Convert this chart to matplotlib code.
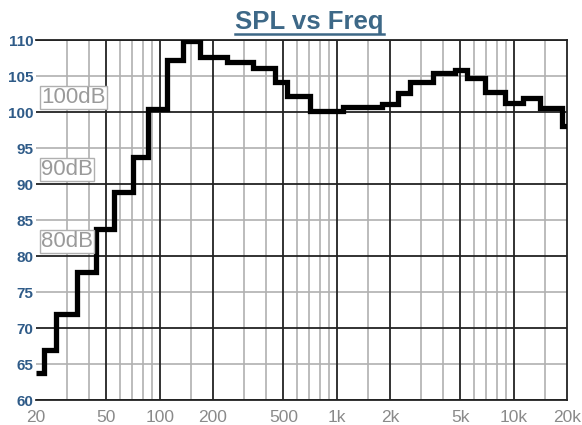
import numpy as np
import matplotlib
matplotlib.use('Agg')
import matplotlib.pyplot as plt
from matplotlib.lines import Line2D

# step edges (Hz) and levels (dB)
edges = [20, 22.2, 26, 34.2, 43.5, 55.2, 70.9, 86.2, 109.5, 135, 169, 239, 338,
         448, 526, 706, 1090, 1796, 2228, 2594, 3514, 4659, 5466, 6882, 8926,
         11330, 14080, 18670, 20000]
spl = [63.8, 66.9, 71.9, 77.8, 83.8, 88.9, 93.8, 100.4, 107.2, 109.8, 107.7,
       107.0, 106.1, 104.1, 102.2, 100.2, 100.65, 101.1, 102.7, 104.2, 105.4,
       105.8, 104.7, 102.8, 101.2, 102.0, 100.5, 98.1]

major_f = [50, 100, 200, 500, 1000, 2000, 5000, 10000]
minor_f = [30, 40, 60, 70, 80, 90, 150, 300, 400, 600, 700, 800, 900, 1500,
           3000, 4000, 6000, 7000, 8000, 9000, 15000]
xticks = [20, 50, 100, 200, 500, 1000, 2000, 5000, 10000, 20000]
xlabels = ['20', '50', '100', '200', '500', '1k', '2k', '5k', '10k', '20k']
yticks = [60, 65, 70, 75, 80, 85, 90, 95, 100, 105, 110]
db_marks = [100, 90, 80]

fig = plt.figure(figsize=(5.82, 4.25), dpi=100)
ax = fig.add_axes([36/582, 1-400/425, 531/582, 360/425])
ax.set_xscale('log')
ax.set_xlim(20, 20000)
ax.set_ylim(60, 110)

# grid
for f in minor_f:
    ax.axvline(f, color='#b0b0b0', lw=1.2, zorder=1)
for f in major_f:
    ax.axvline(f, color='#222222', lw=1.3, zorder=2)
for y in yticks:
    if y % 10 == 0:
        ax.axhline(y, color='#222222', lw=1.3, zorder=2)
    else:
        ax.axhline(y, color='#b0b0b0', lw=1.2, zorder=1)

ax.stairs(spl, edges, baseline=None, color='black', lw=3.8, zorder=5)

ax.set_xticks(xticks)
ax.set_xticklabels(xlabels, fontsize=12.5, color='#8a8a8a', family='Liberation Sans')
ax.xaxis.set_minor_locator(matplotlib.ticker.NullLocator())
ax.set_yticks(yticks)
ax.set_yticklabels([str(y) for y in yticks], fontsize=11, fontweight='bold',
                   color='#2f5b88', family='Liberation Sans')
ax.tick_params(length=0, pad=2)
ax.tick_params(axis='x', pad=7)

for s in ['top', 'right', 'bottom']:
    ax.spines[s].set_color('#222222')
    ax.spines[s].set_linewidth(1.3)
ax.spines['left'].set_visible(False)

# boxed dB labels
for d in db_marks:
    ax.text(21.3, d + 2, '%ddB' % d, fontsize=16, color='#9a9a9a',
            family='Liberation Sans', va='center', ha='left', zorder=6,
            bbox=dict(boxstyle='square,pad=0.06', fc='white', ec='#b0b0b0', lw=1.0))

# title with underline
title = fig.text(0.532, 0.948, 'SPL vs Freq', fontsize=18.5, fontweight='bold',
                 color='#3d6887', family='Liberation Sans', ha='center', va='center')
fig.canvas.draw()
bb = title.get_window_extent().transformed(fig.transFigure.inverted())
fig.add_artist(Line2D([bb.x0, bb.x1], [1-33.5/425, 1-33.5/425], color='#3d6887', lw=1.8))

fig.savefig('out.png', dpi=100)
